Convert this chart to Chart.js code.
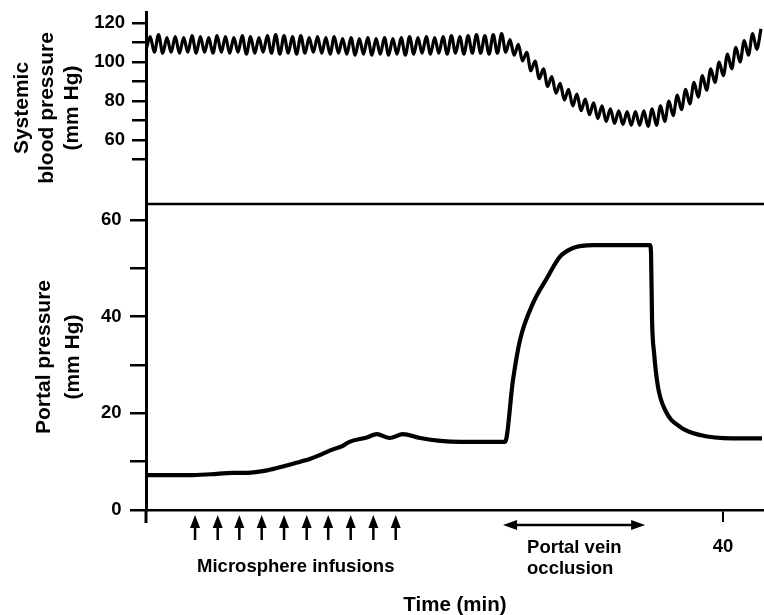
<!DOCTYPE html>
<html lang="en">
<head>
  <meta charset="utf-8" />
  <title>Systemic and portal pressure</title>
  <script src="https://cdn.jsdelivr.net/npm/chart.js@4.4.4/dist/chart.umd.min.js"></script>
  <style>
    html, body { margin: 0; padding: 0; background: #fff; }
    #container { position: relative; width: 764px; height: 615px; }
  </style>
</head>
<body>
  <div id="container"><canvas id="stage"></canvas></div>

  <script>
    // systemic pressure trace: one value per peak / trough, one every BP_STEP minutes
    const BP_STEP = 0.29;
    const bpValues = [
      106, 113, 105, 114, 104.5, 112.5, 105, 113, 104.5, 112.5,
      105, 113.5, 104.5, 113, 105, 112.5, 104.5, 113.5, 105, 113,
      104.5, 112.5, 105, 113.5, 104, 113, 104.5, 112.5, 105, 113.5,
      104.5, 114, 104, 113.5, 104.5, 113, 104, 113.5, 104.5, 112.5,
      105, 113, 104.5, 112.5, 104, 113, 104.5, 112, 104, 112.5,
      103.5, 112, 104, 112.5, 103.5, 112, 104, 112.5, 103.5, 112,
      104, 112.5, 103.5, 113, 104, 112.5, 104.5, 113, 104, 112.5,
      104.5, 113, 104, 113.5, 104.5, 113, 104, 113.5, 104.5, 114,
      104.5, 113.5, 104, 114, 104.5, 114.5, 105,
      111.5, 103.5, 109, 100.5, 105, 95.5, 100.5, 91.5, 96.5, 87.5,
      92.5, 84, 89, 80.5, 86, 77.5, 83.5, 75, 81, 73,
      79, 71, 77.5, 69.5, 76, 68.5, 75, 68, 74.5, 67.5,
      74.5, 67.5, 75, 67,
      76, 67.5, 77.5, 69.5, 80, 72.5, 83, 75.5, 86, 78.5,
      89.5, 82, 93, 85.5, 96.5, 89.5, 100, 93, 104, 96.5,
      107.5, 100, 111, 103.5, 114.5, 106.5, 117
    ];

    // portal pressure trace
    const ppTimes = [
      0, 3.0, 4.5, 6.0, 7.0, 8.4, 9.5, 10.7, 11.4, 11.9,
      13.0, 13.6, 14.1, 15.3, 16.0, 16.9, 17.8, 19.0, 20.4, 21.8,
      24.89, 25.44, 25.93, 26.83, 27.8, 28.7, 29.6, 31.0, 34.94, 35.01,
      35.08, 35.22, 35.49, 35.98, 37.02, 38.41, 40.69, 42.7
    ];
    const ppValues = [
      7.2, 7.2, 7.4, 7.7, 7.7, 8.2, 9.0, 10.0, 10.6, 11.2,
      12.6, 13.2, 14.1, 15.0, 15.7, 14.9, 15.7, 14.9, 14.3, 14.1,
      14.1, 26.9, 35.2, 42.8, 48, 52.4, 54.2, 54.8, 54.8, 53,
      39.3, 32.5, 25.5, 20.7, 17.2, 15.5, 14.8, 14.8
    ];

    const bpTicks = [50, 60, 70, 80, 90, 100, 110, 120];
    const bpTickLabels = [60, 80, 100, 120];
    const ppTicks = [0, 10, 20, 30, 40, 50, 60];
    const ppTickLabels = [0, 20, 40, 60];
    const timeTicks = [40];

    const infusionTimes = [3.4, 4.97, 6.47, 8.02, 9.57, 11.14, 12.63, 14.19, 15.76, 17.31];
    const occlusionStart = 24.75;
    const occlusionEnd = 34.6;

    const FONT = '"Liberation Sans", Arial, sans-serif';
    const tickFont = { family: FONT, size: 18.5, weight: 'bold' };

    // separator, arrows and the notes under the time axis
    const annotations = {
      id: 'annotations',
      afterDraw(chart) {
        const { ctx, chartArea } = chart;
        const x = chart.scales.x;
        const yBot = chart.scales.yBot;
        const base = yBot.bottom;
        ctx.save();
        ctx.strokeStyle = '#000';
        ctx.fillStyle = '#000';

        ctx.lineWidth = 2.5;
        ctx.beginPath();
        ctx.moveTo(chartArea.left, yBot.top);
        ctx.lineTo(chartArea.right, yBot.top);
        ctx.stroke();

        ctx.lineWidth = 3;
        ctx.beginPath();
        ctx.moveTo(chartArea.left, base);
        ctx.lineTo(chartArea.left, base + 13);
        ctx.stroke();

        infusionTimes.forEach(t => {
          const px = x.getPixelForValue(t);
          ctx.lineWidth = 2.5;
          ctx.beginPath();
          ctx.moveTo(px, base + 15);
          ctx.lineTo(px, base + 30);
          ctx.stroke();
          ctx.beginPath();
          ctx.moveTo(px, base + 5);
          ctx.lineTo(px - 5, base + 18);
          ctx.lineTo(px + 5, base + 18);
          ctx.closePath();
          ctx.fill();
        });

        const x0 = x.getPixelForValue(occlusionStart);
        const x1 = x.getPixelForValue(occlusionEnd);
        const ay = base + 15;
        ctx.lineWidth = 2.5;
        ctx.beginPath();
        ctx.moveTo(x0 + 8, ay);
        ctx.lineTo(x1 - 8, ay);
        ctx.stroke();
        ctx.beginPath();
        ctx.moveTo(x0, ay);
        ctx.lineTo(x0 + 14, ay - 5);
        ctx.lineTo(x0 + 14, ay + 5);
        ctx.closePath();
        ctx.fill();
        ctx.beginPath();
        ctx.moveTo(x1, ay);
        ctx.lineTo(x1 - 14, ay - 5);
        ctx.lineTo(x1 - 14, ay + 5);
        ctx.closePath();
        ctx.fill();

        ctx.font = 'bold 18.5px ' + FONT;
        ctx.textAlign = 'left';
        ctx.textBaseline = 'alphabetic';
        ctx.fillText('Microsphere infusions', x.getPixelForValue(infusionTimes[0]) + 2, base + 62);
        ctx.fillText('Portal vein', x0 + 24, base + 43);
        ctx.fillText('occlusion', x0 + 24, base + 64);
        ctx.restore();
      }
    };

    const axisGrid = (len) => ({ drawOnChartArea: false, tickLength: len, color: '#000', lineWidth: 2.5 });

    // keep the plot edges where the figure has them
    function fitLeft(s) {
      s.width = 146;
      s.paddingTop = 0;
      s.paddingBottom = 0;
    }

    new Chart(document.getElementById('stage'), {
      type: 'line',
      data: {
        datasets: [{
          label: 'Systemic blood pressure',
          data: bpValues.map((v, i) => ({ x: i * BP_STEP, y: v })),
          yAxisID: 'yTop',
          borderColor: '#000',
          borderWidth: 3.2,
          pointRadius: 0,
          cubicInterpolationMode: 'monotone',
          fill: false
        }, {
          label: 'Portal pressure',
          data: ppTimes.map((t, i) => ({ x: t, y: ppValues[i] })),
          yAxisID: 'yBot',
          borderColor: '#000',
          borderWidth: 4.2,
          pointRadius: 0,
          cubicInterpolationMode: 'monotone',
          fill: false
        }]
      },
      options: {
        responsive: true,
        maintainAspectRatio: false,
        animation: false,
        layout: { padding: { top: 12, left: 0, right: 0, bottom: 0 } },
        plugins: { legend: { display: false }, tooltip: { enabled: false } },
        scales: {
          x: {
            type: 'linear',
            position: 'bottom',
            min: 0,
            max: 42.84,
            afterFit(s) { s.height = 105; s.paddingLeft = 0; s.paddingRight = 0; },
            afterBuildTicks(s) { s.ticks = timeTicks.map(v => ({ value: v })); },
            grid: { drawOnChartArea: false, tickLength: 12, color: '#000', lineWidth: 2 },
            border: { color: '#000', width: 2.5 },
            ticks: { color: '#000', font: tickFont, padding: 14, maxRotation: 0, autoSkip: false },
            title: {
              display: true,
              text: 'Time (min)',
              color: '#000',
              font: { family: FONT, size: 20.5, weight: 'bold', lineHeight: '20px' },
              padding: { top: 0, bottom: 0 }
            }
          },
          yBot: {
            type: 'linear',
            position: 'left',
            stack: 'panels',
            stackWeight: 306,
            weight: 1,
            min: 0,
            max: 63.31,
            afterFit: fitLeft,
            afterBuildTicks(s) { s.ticks = ppTicks.map(v => ({ value: v })); },
            grid: axisGrid(16),
            border: { color: '#000', width: 3 },
            ticks: {
              color: '#000',
              font: tickFont,
              padding: 8.5,
              autoSkip: false,
              callback: v => ppTickLabels.includes(v) ? String(v) : ''
            },
            title: {
              display: true,
              text: ['Portal pressure', '(mm Hg)'],
              color: '#000',
              font: { family: FONT, size: 21, weight: 'bold', lineHeight: '29px' },
              padding: { top: 29.5, bottom: 0 }
            }
          },
          yTop: {
            type: 'linear',
            position: 'left',
            stack: 'panels',
            stackWeight: 192,
            weight: 2,
            min: 27.18,
            max: 125.64,
            afterFit: fitLeft,
            afterBuildTicks(s) { s.ticks = bpTicks.map(v => ({ value: v })); },
            grid: axisGrid(14),
            border: { color: '#000', width: 3 },
            ticks: {
              color: '#000',
              font: tickFont,
              padding: 7,
              autoSkip: false,
              callback: v => bpTickLabels.includes(v) ? String(v) : ''
            },
            title: {
              display: true,
              text: ['Systemic', 'blood pressure', '(mm Hg)'],
              color: '#000',
              font: { family: FONT, size: 21, weight: 'bold', lineHeight: '25px' },
              padding: { top: 9.5, bottom: 0 }
            }
          }
        }
      },
      plugins: [annotations]
    });
  </script>
</body>
</html>
